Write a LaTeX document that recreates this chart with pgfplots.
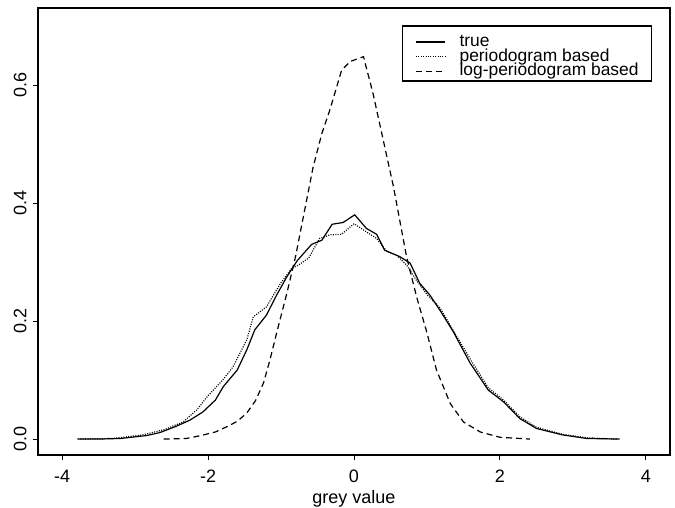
\documentclass[border=0pt]{standalone}
\usepackage{fontspec}
\setmainfont{Liberation Sans}
\usepackage{pgfplots}
\pgfplotsset{compat=1.18}

% 1 px of the reference = 0.5pt
\begin{document}
\fontsize{9pt}{11pt}\selectfont
\begin{tikzpicture}
\begin{axis}[
    at={(0pt,0pt)}, anchor=south west,
    scale only axis, width=316pt, height=223.5pt,
    xmin=-4.33, xmax=4.33, ymin=-0.027, ymax=0.7305,
    axis line style={line width=0.6pt},
    xtick={-4,-2,0,2,4}, xticklabels={-4,-2,0,2,4},
    ytick={0,0.2,0.4,0.6}, yticklabels={0.0,0.2,0.4,0.6},
    xtick pos=bottom, ytick pos=left, tick align=outside,
    major tick length=2.5pt,
    tick style={line width=0.5pt, black},
    xticklabel style={anchor=north, inner sep=0pt, yshift=-5pt},
    % rotated labels: yshift moves them away from the axis
    yticklabel style={rotate=90, anchor=south, inner sep=0pt, yshift=3pt},
    xlabel={grey value},
    xlabel style={at={(rel axis cs:0.5,0)}, anchor=base, yshift=-24.5pt, inner sep=0pt},
    legend image code/.code={\draw[#1] (0pt,0pt) -- (14.5pt,0pt);},
    legend cell align=left,
    legend style={at={(rel axis cs:0.5965,0.941)}, anchor=north west,
        draw=none, fill=none, inner sep=0pt,
        row sep=0pt, column sep=7pt,
        font=\fontsize{8.7pt}{9pt}\selectfont,
        nodes={inner sep=0pt, text height=5.9pt, text depth=1.4pt, anchor=west}},
]
\addplot[black, line width=0.6pt] coordinates {
    (-3.79,0) (-3.5,0.0) (-3.2,0.001) (-2.84,0.006) (-2.66,0.011) (-2.43,0.022)
    (-2.25,0.032) (-2.07,0.046) (-1.9,0.066) (-1.79,0.089) (-1.6,0.117)
    (-1.47,0.151) (-1.36,0.185) (-1.2,0.21) (-1.06,0.244) (-0.92,0.275)
    (-0.78,0.302) (-0.58,0.33) (-0.44,0.337) (-0.30,0.364) (-0.15,0.367)
    (0.01,0.38) (0.17,0.357) (0.31,0.347) (0.42,0.32) (0.63,0.309)
    (0.77,0.298) (0.9,0.264) (1.04,0.244) (1.2,0.214) (1.36,0.182)
    (1.59,0.129) (1.84,0.083) (2.05,0.063) (2.27,0.035) (2.5,0.018)
    (2.86,0.007) (3.19,0.001) (3.64,0)
};
\addplot[black, line width=0.6pt, dash pattern=on 0.5pt off 0.7pt] coordinates {
    (-3.75,0) (-3.3,0.001) (-2.9,0.007) (-2.6,0.016) (-2.34,0.029) (-2.15,0.05)
    (-2.01,0.072) (-1.8,0.1) (-1.66,0.122) (-1.47,0.168) (-1.38,0.207)
    (-1.2,0.224) (-1.0,0.265) (-0.85,0.29) (-0.77,0.294) (-0.62,0.307)
    (-0.47,0.34) (-0.33,0.346) (-0.17,0.347) (0.0,0.365) (0.17,0.351)
    (0.31,0.34) (0.45,0.318) (0.58,0.312) (0.72,0.295) (0.85,0.27)
    (1.0,0.245) (1.18,0.222) (1.36,0.184) (1.6,0.134) (1.84,0.087)
    (2.05,0.066) (2.27,0.038) (2.5,0.02) (2.86,0.008) (3.2,0.002) (3.6,0)
};
\addplot[black, line width=0.6pt, dash pattern=on 3pt off 2pt] coordinates {
    (-2.61,0) (-2.3,0.001) (-2.11,0.0056) (-1.9,0.012) (-1.74,0.021) (-1.6,0.03)
    (-1.47,0.044) (-1.35,0.065) (-1.24,0.095) (-1.15,0.135) (-1.06,0.18)
    (-0.92,0.247) (-0.8,0.31) (-0.56,0.461) (-0.44,0.518) (-0.33,0.558)
    (-0.17,0.625) (-0.05,0.64) (0.13,0.648) (0.26,0.586) (0.40,0.507)
    (0.54,0.428) (0.72,0.309) (0.86,0.24) (1.0,0.18) (1.13,0.117)
    (1.32,0.06) (1.5,0.029) (1.73,0.012) (2.0,0.003) (2.41,0)
};
\legend{true, periodogram based, log-periodogram based}
% legend frame
\draw[line width=0.6pt] (rel axis cs:0.577,0.8367) rectangle (rel axis cs:0.971,0.9597);
\end{axis}
\pgfresetboundingbox
\path[use as bounding box] (-19pt,-26.5pt) rectangle (318.5pt,227.5pt);
\end{tikzpicture}
\end{document}
